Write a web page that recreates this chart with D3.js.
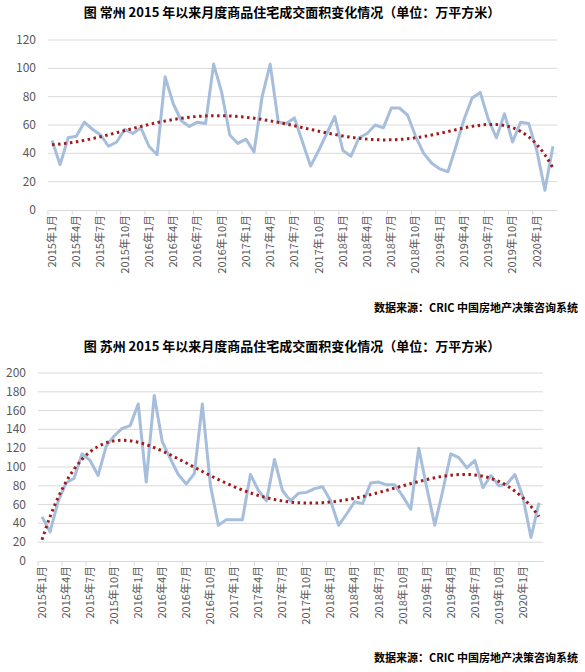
<!DOCTYPE html>
<html><head><meta charset="utf-8">
<script src="https://cdn.jsdelivr.net/npm/d3@7"></script>
<style>body{margin:0;background:#fff}svg{display:block}</style>
</head><body>
<svg id="chart" width="585" height="672"></svg>
<script>
// months 2015-01 .. 2020-03
const months = d3.range(63).map(i => `${2015 + Math.floor(i / 12)}年${(i % 12) + 1}月`);

const changzhou = [49, 32, 51, 52, 62, 57, 53, 45, 48, 57, 54, 58, 45, 39, 94, 75, 63, 59, 62, 61,
  103, 83, 53, 47, 50, 41, 80, 103, 62, 61, 65, 48, 31, 42, 54, 66, 42, 38, 51, 54,
  60, 58, 72, 72, 67, 52, 40, 33, 29, 27, 45, 64, 79, 83, 64, 51, 68, 48, 62, 61, 42, 14, 45];

const suzhou = [47, 31, 63, 83, 88, 114, 107, 91, 122, 133, 141, 144, 167, 84, 176, 127, 109, 92, 82, 93,
  167, 81, 38, 44, 44, 44, 92, 75, 64, 108, 75, 64, 72, 73, 77, 79, 64, 38, 50, 63,
  61, 83, 84, 81, 81, 69, 55, 120, 78, 38, 75, 114, 110, 99, 107, 78, 91, 80, 82, 92, 68, 25, 62];

const charts = [
  { title: '图  常州 2015 年以来月度商品住宅成交面积变化情况（单位：万平方米）', data: changzhou,
    yTicks: [0, 20, 40, 60, 80, 100, 120], top: 0, x0: 48, x1: 557, yTop: 40, yBase: 210, ty: 17, sy: 312 },
  { title: '图  苏州 2015 年以来月度商品住宅成交面积变化情况（单位：万平方米）', data: suzhou,
    yTicks: d3.range(0, 201, 20), top: 0, x0: 38, x1: 543, yTop: 373, yBase: 561, ty: 351, sy: 662 }
];

// least-squares polynomial (order 6) trend, like the spreadsheet trendline
function polyTrend(ys, order) {
  const n = ys.length;
  const xs = ys.map((_, i) => (i - (n - 1) / 2) / ((n - 1) / 2));
  const m = order + 1;
  const A = d3.range(m).map(() => Array(m + 1).fill(0));
  xs.forEach((x, k) => {
    for (let r = 0; r < m; r++) {
      for (let c = 0; c < m; c++) A[r][c] += Math.pow(x, r + c);
      A[r][m] += ys[k] * Math.pow(x, r);
    }
  });
  for (let i = 0; i < m; i++) {
    let p = i;
    for (let r = i + 1; r < m; r++) if (Math.abs(A[r][i]) > Math.abs(A[p][i])) p = r;
    [A[i], A[p]] = [A[p], A[i]];
    for (let r = 0; r < m; r++) {
      if (r === i) continue;
      const f = A[r][i] / A[i][i];
      for (let c = i; c <= m; c++) A[r][c] -= f * A[i][c];
    }
  }
  const coef = A.map((row, i) => row[m] / row[i]);
  return xs.map(x => coef.reduce((s, c, j) => s + c * Math.pow(x, j), 0));
}

const svg = d3.select('#chart');
const font = '"Microsoft YaHei","Noto Sans CJK SC",sans-serif';

charts.forEach(ch => {
  const g = svg.append('g');
  const x = d3.scaleBand().domain(months).range([ch.x0, ch.x1]);
  const y = d3.scaleLinear().domain([0, d3.max(ch.yTicks)]).range([ch.yBase, ch.yTop]);

  g.append('text').attr('x', 292).attr('y', ch.ty).attr('text-anchor', 'middle')
    .attr('font-family', font).attr('font-weight', 'bold').attr('font-size', 13).attr('fill', '#000')
    .text(ch.title);

  g.selectAll('.grid').data(ch.yTicks.slice(1)).join('line')
    .attr('x1', ch.x0).attr('x2', ch.x1).attr('y1', d => y(d)).attr('y2', d => y(d))
    .attr('stroke', '#d9d9d9');

  g.selectAll('.yl').data(ch.yTicks).join('text')
    .attr('x', ch.x0 - 12).attr('y', d => y(d) + 4).attr('text-anchor', 'end')
    .attr('font-family', font).attr('font-size', 12).attr('fill', '#595959').text(d => d);

  const xAxis = g.append('g').attr('transform', `translate(0,${ch.yBase})`)
    .call(d3.axisBottom(x).tickValues(months.filter((_, i) => i % 3 === 0)).tickSize(5).tickSizeOuter(0));
  xAxis.select('.domain').attr('stroke', '#d9d9d9');
  xAxis.selectAll('.tick line').attr('stroke', '#d9d9d9')
    .attr('transform', `translate(${-x.bandwidth() / 2},0)`);
  xAxis.selectAll('.tick text').attr('font-family', font).attr('font-size', 11).attr('fill', '#595959')
    .attr('transform', 'rotate(-90)').attr('text-anchor', 'end').attr('x', -5).attr('y', 0).attr('dy', '0.35em');

  const cx = (_, i) => x(months[i]) + x.bandwidth() / 2;
  g.append('path').datum(ch.data)
    .attr('d', d3.line().x(cx).y(d => y(d)))
    .attr('fill', 'none').attr('stroke', '#a6bedb').attr('stroke-width', 3).attr('stroke-linejoin', 'round');

  g.append('path').datum(polyTrend(ch.data, 6))
    .attr('d', d3.line().x(cx).y(d => y(d)).curve(d3.curveMonotoneX))
    .attr('fill', 'none').attr('stroke', '#a01c1c').attr('stroke-width', 3)
    .attr('stroke-dasharray', '2.5,3.5');

  g.append('text').attr('x', 578).attr('y', ch.sy).attr('text-anchor', 'end')
    .attr('font-family', font).attr('font-weight', 'bold').attr('font-size', 11).attr('fill', '#000')
    .text('数据来源：CRIC 中国房地产决策咨询系统');
});
</script>
</body></html>
